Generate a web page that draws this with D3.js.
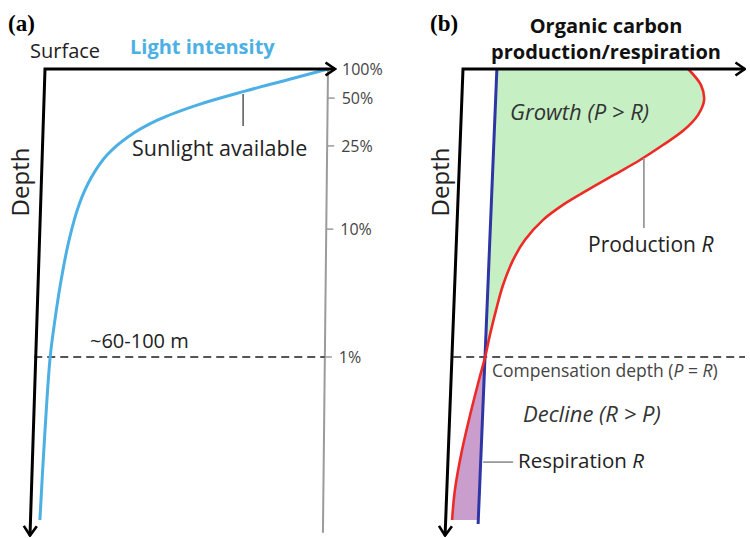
<!DOCTYPE html>
<html>
<head>
<meta charset="utf-8">
<script src="https://cdnjs.cloudflare.com/ajax/libs/d3/7.8.5/d3.min.js"></script>
<style>
  body { margin: 0; background: #fff; }
  svg text { font-family: "Open Sans", Lato, sans-serif; }
</style>
</head>
<body>
<div id="chart"></div>
<script>
// depth is in relative units: 100 = the 1% light level (~60-100 m)

// panel (a) light intensity (% of surface) against depth
var lightDepth = [0, 3.8, 7.6, 12.2, 17.7, 23.6, 29.9, 37.8, 47.2, 59.4, 73.3, 87.2, 100.3, 128.8, 156.6];
var lightPct   = [100, 85.5, 71, 54.8, 39.9, 29.3, 21.9, 16.3, 12, 8.5, 5.7, 3.5, 1.8, -0.2, -1.8];

var tickLabels = ["100%", "50%", "25%", "10%", "1%"];
var tickDepth  = [0, 10.1, 26.7, 55.6, 100];

// panel (b) production and respiration against depth
var prodDepth = [0, 5.6, 10.8, 16, 21.2, 26.4, 31.6, 36.8, 42, 47.2, 52.4, 59.4, 66.3, 75, 83.7, 92.4, 100, 108, 121.9, 134, 146.2, 156.6];
var prodRate  = [80.4, 85, 86.1, 83.9, 78.9, 71.4, 63.2, 53.9, 44.6, 35.7, 28.6, 22.1, 17.9, 14.3, 11.8, 9.6, 7.9, 5.7, 2.1, -0.7, -2.9, -3.9];

var respDepth = [0, 158];
var respRate  = [12.1, 5.4];

var compDepth = 100;
var axisDepth = 162;

var width = 750, height = 538;

var svg = d3.select("#chart").append("svg")
    .attr("width", width)
    .attr("height", height);

var y  = d3.scaleLinear().domain([0, 100]).range([69, 357]);
var xA = d3.scaleLinear().domain([0, 100]).range([45, 328]);
var xB = d3.scaleLinear().domain([0, 100]).range([463, 743]);
var respAt = d3.scaleLinear().domain(respDepth).range(respRate);

var defs = svg.append("defs");
defs.append("marker")
    .attr("id", "arrow")
    .attr("viewBox", "0 0 12 16")
    .attr("refX", 10.5).attr("refY", 8)
    .attr("markerWidth", 12).attr("markerHeight", 16)
    .attr("markerUnits", "userSpaceOnUse")
    .attr("orient", "auto-start-reverse")
  .append("path")
    .attr("d", "M1,1.5 L10.5,8 L1,14.5")
    .attr("fill", "none")
    .attr("stroke", "#000")
    .attr("stroke-width", 2.6);

var light = lightDepth.map(function(d, i) { return {depth: d, v: lightPct[i]}; });
var prod = prodDepth.map(function(d, i) { return {depth: d, v: prodRate[i]}; });

// ---------- panel (a) ----------
var gA = svg.append("g");

// gray light-percentage axis on the right
var grayX = d3.scaleLinear().domain([0, axisDepth]).range([xA(100), xA(98.2)]);
gA.append("line")
    .attr("x1", grayX(0)).attr("y1", y(0))
    .attr("x2", grayX(axisDepth - 1)).attr("y2", y(axisDepth - 1))
    .style("stroke", "#9b9b9b").style("stroke-width", 2);

tickDepth.forEach(function(d, i) {
  if (i > 0) {
    gA.append("line")
      .attr("x1", grayX(d)).attr("x2", grayX(d) + 7)
      .attr("y1", y(d)).attr("y2", y(d))
      .style("stroke", "#9b9b9b").style("stroke-width", 1.5);
  }
  gA.append("text")
    .attr("x", grayX(d) + 14)
    .attr("y", y(d))
    .attr("dy", "0.36em")
    .style("font-size", "16px")
    .style("fill", "#444")
    .text(tickLabels[i]);
});

// dashed 1% line
gA.append("line")
    .attr("x1", xA(-3.8)).attr("x2", grayX(compDepth))
    .attr("y1", y(compDepth)).attr("y2", y(compDepth))
    .style("stroke", "#555").style("stroke-width", 2)
    .style("stroke-dasharray", "8,5");

var lineA = d3.line()
    .x(function(d) { return xA(d.v); })
    .y(function(d) { return y(d.depth); })
    .curve(d3.curveCatmullRom.alpha(0.5));

gA.append("path")
    .attr("d", lineA(light))
    .style("fill", "none")
    .style("stroke", "#4cb0e4")
    .style("stroke-width", 3);

// axes of (a)
gA.append("path")
    .attr("d", d3.line()([[xA(-5.3), y(axisDepth)], [xA(0), y(0)], [xA(102.5), y(0)]]))
    .style("fill", "none").style("stroke", "#000").style("stroke-width", 3)
    .style("stroke-linejoin", "miter")
    .attr("marker-start", "url(#arrow)")
    .attr("marker-end", "url(#arrow)");

// pointer for sunlight label
gA.append("line")
    .attr("x1", xA(70)).attr("x2", xA(70))
    .attr("y1", y(8.7)).attr("y2", y(19.8))
    .style("stroke", "#555").style("stroke-width", 1.5);

gA.append("text").attr("x", 8).attr("y", 31)
    .style("font-family", "'Liberation Serif', serif")
    .style("font-weight", "bold").style("font-size", "23px")
    .text("(a)");
gA.append("text").attr("x", 30).attr("y", 58)
    .style("font-size", "20px").style("fill", "#222")
    .text("Surface");
gA.append("text").attr("x", 130).attr("y", 54)
    .style("font-size", "20px").style("font-weight", "bold").style("fill", "#4cb0e4")
    .text("Light intensity");
gA.append("text")
    .attr("transform", "translate(29,182) rotate(-90)")
    .attr("text-anchor", "middle")
    .style("font-size", "24px").style("fill", "#222")
    .text("Depth");
gA.append("text").attr("x", 132).attr("y", 156)
    .style("font-size", "21.5px").style("fill", "#222")
    .text("Sunlight available");
gA.append("text").attr("x", 90).attr("y", 348)
    .style("font-size", "20px").style("fill", "#222")
    .text("~60-100 m");

// ---------- panel (b) ----------
var gB = svg.append("g");

var curveB = d3.curveCatmullRom.alpha(0.5);

var areaB = d3.area()
    .y(function(d) { return y(d.depth); })
    .x0(function(d) { return xB(respAt(d.depth)); })
    .x1(function(d) { return xB(d.v); })
    .curve(curveB);

gB.append("path")
    .attr("d", areaB(prod.filter(function(d) { return d.depth <= compDepth; })))
    .style("fill", "#c6efc4");
gB.append("path")
    .attr("d", areaB(prod.filter(function(d) { return d.depth >= compDepth; })))
    .style("fill", "#c99dcc");

gB.append("line")
    .attr("x1", xB(-3.5)).attr("x2", 745)
    .attr("y1", y(compDepth)).attr("y2", y(compDepth))
    .style("stroke", "#555").style("stroke-width", 2)
    .style("stroke-dasharray", "8,5");

gB.append("path")
    .attr("d", d3.line()
        .x(function(d, i) { return xB(respRate[i]); })
        .y(function(d) { return y(d); })(respDepth))
    .style("fill", "none").style("stroke", "#2e35a4").style("stroke-width", 3);

gB.append("path")
    .attr("d", d3.line()
        .x(function(d) { return xB(d.v); })
        .y(function(d) { return y(d.depth); })
        .curve(curveB)(prod))
    .style("fill", "none").style("stroke", "#ee2a26").style("stroke-width", 2.6);

gB.append("path")
    .attr("d", d3.line()([[xB(-6.4), y(axisDepth)], [xB(0), y(0)], [xB(100.7), y(0)]]))
    .style("fill", "none").style("stroke", "#000").style("stroke-width", 3)
    .style("stroke-linejoin", "miter")
    .attr("marker-start", "url(#arrow)")
    .attr("marker-end", "url(#arrow)");

// pointers
gB.append("line")
    .attr("x1", xB(64.6)).attr("x2", xB(64.6))
    .attr("y1", y(30.9)).attr("y2", y(55.2))
    .style("stroke", "#999").style("stroke-width", 1.8);
gB.append("line")
    .attr("x1", xB(7.2)).attr("x2", xB(17.9))
    .attr("y1", y(136.5)).attr("y2", y(136.5))
    .style("stroke", "#999").style("stroke-width", 1.8);

gB.append("text").attr("x", 430).attr("y", 31)
    .style("font-family", "'Liberation Serif', serif")
    .style("font-weight", "bold").style("font-size", "23px")
    .text("(b)");
gB.append("text").attr("x", 606).attr("y", 33)
    .attr("text-anchor", "middle")
    .style("font-size", "20px").style("font-weight", "bold").style("fill", "#111")
    .text("Organic carbon");
gB.append("text").attr("x", 606).attr("y", 59)
    .attr("text-anchor", "middle")
    .style("font-size", "20px").style("font-weight", "bold").style("fill", "#111")
    .text("production/respiration");
gB.append("text")
    .attr("transform", "translate(449,182) rotate(-90)")
    .attr("text-anchor", "middle")
    .style("font-size", "24px").style("fill", "#222")
    .text("Depth");

gB.append("text").attr("x", 510).attr("y", 120)
    .style("font-size", "22px").style("font-style", "italic").style("fill", "#333")
    .text("Growth (P > R)");

var t1 = gB.append("text").attr("x", 588).attr("y", 252)
    .style("font-size", "21px").style("fill", "#222");
t1.append("tspan").text("Production ");
t1.append("tspan").style("font-style", "italic").text("R");

var t2 = gB.append("text").attr("x", 492).attr("y", 377)
    .style("font-size", "17.5px").style("fill", "#444");
t2.append("tspan").text("Compensation depth (");
t2.append("tspan").style("font-style", "italic").text("P");
t2.append("tspan").text(" = ");
t2.append("tspan").style("font-style", "italic").text("R");
t2.append("tspan").text(")");

gB.append("text").attr("x", 523).attr("y", 422)
    .style("font-size", "22px").style("font-style", "italic").style("fill", "#333")
    .text("Decline (R > P)");

var t3 = gB.append("text").attr("x", 518).attr("y", 468)
    .style("font-size", "20.5px").style("fill", "#222");
t3.append("tspan").text("Respiration ");
t3.append("tspan").style("font-style", "italic").text("R");
</script>
</body>
</html>
